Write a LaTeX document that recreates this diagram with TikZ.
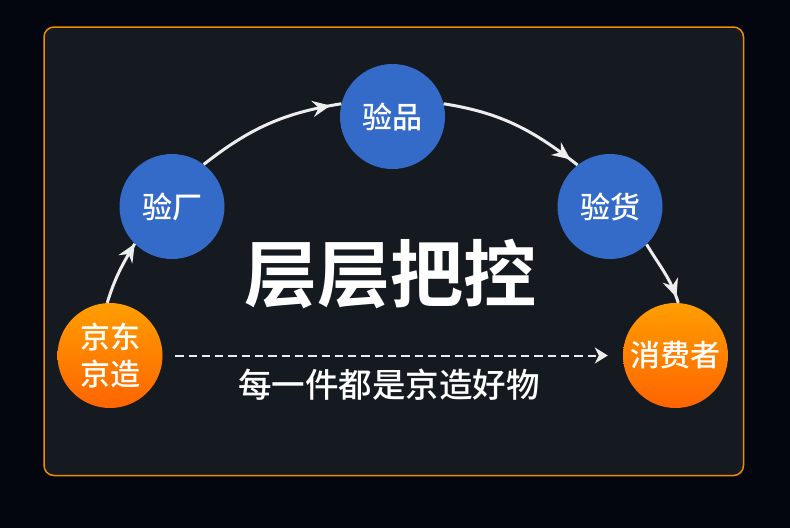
\documentclass[tikz,border=0pt]{standalone}
\usepackage{fontspec}
\setmainfont{Noto Sans CJK SC}
\newfontfamily\cjkbold{Noto Sans CJK SC Bold}
\newfontfamily\cjkmedium{Noto Sans CJK SC Medium}
\usetikzlibrary{arrows.meta,decorations.markings}

\definecolor{pagebg}{HTML}{03050F}
\definecolor{panelbg}{HTML}{151A21}
\definecolor{frameorange}{HTML}{F28A00}
\definecolor{ballblue}{HTML}{346BC8}
\definecolor{balltop}{HTML}{FF9E00}
\definecolor{ballbottom}{HTML}{FF6400}
\definecolor{linewhite}{HTML}{EDEDED}

\tikzset{
	ball/.style={circle,minimum size=105pt,inner sep=0pt,text=white,font=\cjkmedium\fontsize{30pt}{37pt}\selectfont,align=center},
	blueball/.style={ball,fill=ballblue},
	orangeball/.style={ball,top color=balltop,bottom color=ballbottom},
	flow/.style={draw=linewhite,line width=3pt,
		decoration={markings,mark=at position #1 with {\arrow{Stealth[length=18pt,width=16pt,inset=6pt]}}},
		postaction={decorate}},
	dashflow/.style={draw=linewhite,line width=2pt,dash pattern=on 8.3pt off 5pt,
		-{Stealth[length=13pt,width=16pt,inset=4pt]}}
}

\begin{document}
\begin{tikzpicture}[x=1pt,y=1pt]
		\fill[pagebg] (0,0) rectangle (790,-528);
		\useasboundingbox (0,0) rectangle (790,-528);
		\draw[frameorange,fill=panelbg,line width=1.5pt,rounded corners=10pt] (44,-27) rectangle (743.5,-475.5);

		\node[orangeball] (jd) at (110,-355.5) {京东\\京造};
		\node[orangeball,right of=jd,node distance=565.5pt] (xfz) {消费者};
		\node[blueball] (yc) at (172,-206.5) {验厂};
		\node[blueball,right of=yc,node distance=438pt] (yh) {验货};
		\node[blueball] (yp) at (392.5,-116.5) {验品};

		\node[text=white,font=\cjkbold\fontsize{73pt}{80pt}\selectfont] (title) at (390,-274) {层层把控};
		\node[text=white,font=\cjkmedium\fontsize{33.5pt}{38pt}\selectfont] (slogan) at (389,-385) {每一件都是京造好物};

		\draw[flow=1] (jd.93) to[out=73,in=239] (yc.225);
		\draw[flow=-11pt] (yc.53) to[out=38,in=189] (yp.166);
		\draw[flow=-9pt] (yp.14) to[out=-9,in=142] (yh.128);
		\draw[flow=-6pt] (yh.314) to[out=-59,in=107] (xfz.87);
		\draw[dashflow,shorten <=12.5pt,shorten >=15pt] (jd) -- (xfz);
	\end{tikzpicture}
\end{document}
